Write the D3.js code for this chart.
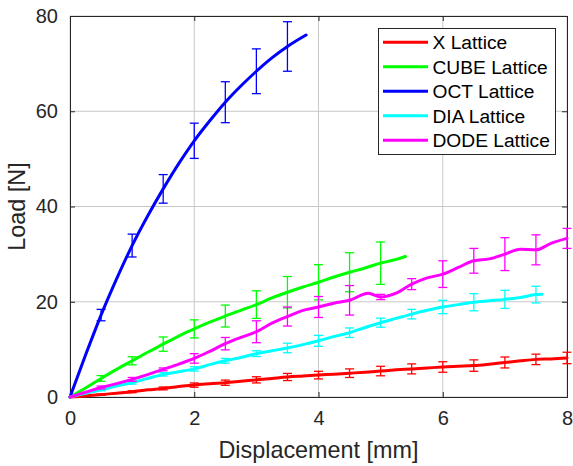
<!DOCTYPE html>
<html>
<head>
<meta charset="utf-8">
<script src="https://cdn.jsdelivr.net/npm/d3@7"></script>
<style>
  html, body { margin: 0; padding: 0; background: #fff; }
  svg { display: block; font-family: "Liberation Sans", Arial, Helvetica, sans-serif; }
</style>
</head>
<body>
<svg id="chart" width="573" height="466"></svg>
<script>
// ---------- data ----------
const seriesNames = ["X Lattice", "CUBE Lattice", "OCT Lattice", "DIA Lattice", "DODE Lattice"];
const seriesColors = ["#ff0000", "#00ff00", "#0000ff", "#00ffff", "#ff00ff"];

const xTicks = [0, 2, 4, 6, 8];
const yTicks = [0, 20, 40, 60, 80];

// X Lattice
const xLatX = [0, 0.25, 0.5, 0.75, 1, 1.25, 1.5, 1.75, 2, 2.25, 2.5, 2.75, 3, 3.25, 3.5, 3.75, 4, 4.25, 4.5, 4.75, 5, 5.25, 5.5, 5.75, 6, 6.25, 6.5, 6.75, 7, 7.25, 7.5, 7.75, 8];
const xLatY = [0, 0.2, 0.5, 0.8, 1.1, 1.5, 1.8, 2.2, 2.5, 2.8, 3.0, 3.3, 3.6, 3.9, 4.2, 4.4, 4.6, 4.8, 5.0, 5.2, 5.45, 5.7, 5.9, 6.1, 6.3, 6.45, 6.6, 6.9, 7.25, 7.6, 7.9, 8.0, 8.2];
const xLatErrX = [0.5, 1, 1.5, 2, 2.5, 3, 3.5, 4, 4.5, 5, 5.5, 6, 6.5, 7, 7.5, 8];
const xLatErr = [0.15, 0.2, 0.3, 0.45, 0.55, 0.65, 0.75, 0.8, 0.9, 1.0, 1.05, 1.1, 1.2, 1.15, 1.1, 1.2];

// CUBE Lattice
const cubeX = [0, 0.25, 0.5, 0.75, 1, 1.25, 1.5, 1.75, 2, 2.25, 2.5, 2.75, 3, 3.25, 3.5, 3.75, 4, 4.25, 4.5, 4.75, 5, 5.25, 5.4];
const cubeY = [0, 1.9, 3.9, 5.8, 7.6, 9.4, 11.1, 12.8, 14.3, 15.7, 17.0, 18.2, 19.4, 20.8, 22.0, 23.1, 24.1, 25.2, 26.2, 27.1, 28.1, 28.9, 29.5];
const cubeErrX = [0.5, 1, 1.5, 2, 2.5, 3, 3.5, 4, 4.5, 5];
const cubeErr = [0.6, 0.85, 1.5, 1.9, 2.3, 2.9, 3.3, 3.7, 4.1, 4.45];

// OCT Lattice
const octX = [0, 0.25, 0.5, 0.75, 1, 1.25, 1.5, 1.75, 2, 2.25, 2.5, 2.75, 3, 3.25, 3.5, 3.8];
const octY = [0, 8.8, 17.2, 24.8, 31.8, 38.0, 43.7, 49.0, 53.8, 58.0, 61.9, 65.3, 68.4, 71.2, 73.6, 76.0];
const octErrX = [0.5, 1, 1.5, 2, 2.5, 3, 3.5];
const octErr = [1.2, 2.4, 3.0, 3.7, 4.3, 4.7, 5.2];

// DIA Lattice
const diaX = [0, 0.25, 0.5, 0.75, 1, 1.25, 1.5, 1.75, 2, 2.25, 2.5, 2.75, 3, 3.25, 3.5, 3.75, 4, 4.25, 4.5, 4.75, 5, 5.25, 5.5, 5.75, 6, 6.25, 6.5, 6.75, 7, 7.25, 7.5, 7.6];
const diaY = [0, 0.8, 1.5, 2.3, 3.0, 3.9, 4.75, 5.3, 5.9, 6.8, 7.6, 8.3, 9.1, 9.7, 10.3, 11.0, 11.8, 12.7, 13.5, 14.6, 15.6, 16.5, 17.4, 18.2, 18.9, 19.4, 19.9, 20.2, 20.5, 20.9, 21.5, 21.6];
const diaErrX = [0.5, 1, 1.5, 2, 2.5, 3, 3.5, 4, 4.5, 5, 5.5, 6, 6.5, 7, 7.5];
const diaErr = [0.2, 0.3, 0.35, 0.45, 0.5, 0.6, 1.0, 1.15, 1.0, 0.95, 1.0, 1.4, 1.8, 1.9, 1.75];

// DODE Lattice
const dodeX = [0, 0.25, 0.5, 0.75, 1, 1.25, 1.5, 1.75, 2, 2.25, 2.5, 2.75, 3, 3.25, 3.5, 3.75, 4, 4.25, 4.5, 4.8, 5, 5.25, 5.5, 5.75, 6, 6.25, 6.5, 6.75, 7, 7.25, 7.5, 7.75, 8];
const dodeY = [0, 1.0, 2.0, 2.8, 3.7, 4.7, 5.8, 6.9, 8.1, 9.6, 11.2, 12.5, 13.7, 15.5, 16.9, 18.2, 18.9, 19.7, 20.3, 21.8, 21.0, 21.8, 23.7, 25.0, 25.8, 27.2, 28.6, 29.0, 30.0, 31.0, 30.9, 32.3, 33.3];
const dodeErrX = [0.5, 1, 1.5, 2, 2.5, 3, 3.5, 4, 4.5, 5, 5.5, 6, 6.5, 7, 7.5, 8];
const dodeErr = [0.3, 0.4, 0.3, 1.0, 1.3, 2.3, 2.0, 2.2, 3.1, 0.55, 1.15, 2.8, 2.6, 3.45, 3.15, 2.1];

const lineXs = [xLatX, cubeX, octX, diaX, dodeX];
const lineYs = [xLatY, cubeY, octY, diaY, dodeY];
const errXs = [xLatErrX, cubeErrX, octErrX, diaErrX, dodeErrX];
const errs = [xLatErr, cubeErr, octErr, diaErr, dodeErr];

// ---------- layout ----------
(function draw() {
const svg = d3.select("#chart");
const pL = 70, pR = 567, pT = 16, pB = 397;
const textColor = "#262626";

const x = d3.scaleLinear().domain([0, 8]).range([pL, pR]);
const y = d3.scaleLinear().domain([0, 80]).range([pB, pT]);

// grid
const grid = svg.append("g");
grid.selectAll("line.gx").data(xTicks).join("line")
  .attr("x1", d => x(d)).attr("x2", d => x(d))
  .attr("y1", pT).attr("y2", pB)
  .attr("stroke", "#c8c8c8").attr("stroke-width", 1);
grid.selectAll("line.gy").data(yTicks).join("line")
  .attr("y1", d => y(d)).attr("y2", d => y(d))
  .attr("x1", pL).attr("x2", pR)
  .attr("stroke", "#c8c8c8").attr("stroke-width", 1);

// axes
const xAxis = d3.axisBottom(x).tickValues(xTicks).tickSize(-5).tickPadding(14).tickFormat(d3.format("d"));
const yAxis = d3.axisLeft(y).tickValues(yTicks).tickSize(-5).tickPadding(12).tickFormat(d3.format("d"));

const gx = svg.append("g").attr("transform", `translate(0,${pB})`).call(xAxis);
const gy = svg.append("g").attr("transform", `translate(${pL},0)`).call(yAxis);
const gxTop = svg.append("g").attr("transform", `translate(0,${pT})`)
  .call(d3.axisTop(x).tickValues(xTicks).tickSize(-5).tickFormat(""));
const gyRight = svg.append("g").attr("transform", `translate(${pR},0)`)
  .call(d3.axisRight(y).tickValues(yTicks).tickSize(-5).tickFormat(""));

[gx, gy, gxTop, gyRight].forEach(g => {
  g.selectAll(".domain").attr("stroke", textColor).attr("stroke-width", 1);
  g.selectAll(".tick line").attr("stroke", textColor).attr("stroke-width", 1);
  g.selectAll("text").attr("fill", textColor).style("font-size", "20px")
    .style("font-family", "'Liberation Sans', Arial, sans-serif");
});
gx.selectAll("text").attr("dy", "0.71em");

// axis labels
svg.append("text")
  .attr("x", (pL + pR) / 2).attr("y", 458)
  .attr("text-anchor", "middle").attr("fill", textColor)
  .style("font-size", "23.4px").text("Displacement [mm]");
svg.append("text")
  .attr("transform", `translate(25,${(pT + pB) / 2}) rotate(-90)`)
  .attr("text-anchor", "middle").attr("fill", textColor)
  .style("font-size", "23.4px").text("Load [N]");

// series
const lineGen = d3.line().x(d => x(d[0])).y(d => y(d[1])).curve(d3.curveMonotoneX);
const plot = svg.append("g");
seriesNames.forEach((name, i) => {
  const pts = lineXs[i].map((xv, j) => [xv, lineYs[i][j]]);
  const g = plot.append("g");
  g.append("path").datum(pts)
    .attr("d", lineGen).attr("fill", "none")
    .attr("stroke", seriesColors[i]).attr("stroke-width", 3)
    .attr("stroke-linejoin", "round").attr("stroke-linecap", "round");
  const eb = errXs[i].map((xv, j) => {
    const idx = lineXs[i].indexOf(xv);
    return { x: xv, y: lineYs[i][idx], e: errs[i][j] };
  });
  const ebG = g.selectAll("g.eb").data(eb).join("g")
    .attr("stroke", seriesColors[i]).attr("stroke-width", 1.3).attr("fill", "none");
  ebG.append("line")
    .attr("x1", d => x(d.x)).attr("x2", d => x(d.x))
    .attr("y1", d => y(d.y - d.e)).attr("y2", d => y(d.y + d.e));
  ebG.append("line")
    .attr("x1", d => x(d.x) - 4.5).attr("x2", d => x(d.x) + 4.5)
    .attr("y1", d => y(d.y - d.e)).attr("y2", d => y(d.y - d.e));
  ebG.append("line")
    .attr("x1", d => x(d.x) - 4.5).attr("x2", d => x(d.x) + 4.5)
    .attr("y1", d => y(d.y + d.e)).attr("y2", d => y(d.y + d.e));
});

// legend
const lg = svg.append("g");
const lgX = 378.5, lgY = 28.5, lgW = 177, lgH = 126;
lg.append("rect").attr("x", lgX).attr("y", lgY).attr("width", lgW).attr("height", lgH)
  .attr("fill", "#fff").attr("stroke", textColor).attr("stroke-width", 1);
const rowY = d3.scaleLinear().domain([0, 4]).range([42.3, 140.3]);
seriesNames.forEach((name, i) => {
  lg.append("line")
    .attr("x1", 383).attr("x2", 428)
    .attr("y1", rowY(i)).attr("y2", rowY(i))
    .attr("stroke", seriesColors[i]).attr("stroke-width", 3);
  lg.append("text")
    .attr("x", 432.5).attr("y", rowY(i)).attr("dy", "0.35em")
    .attr("fill", "#000").style("font-size", "19.2px").text(name);
});
})();
</script>
</body>
</html>
